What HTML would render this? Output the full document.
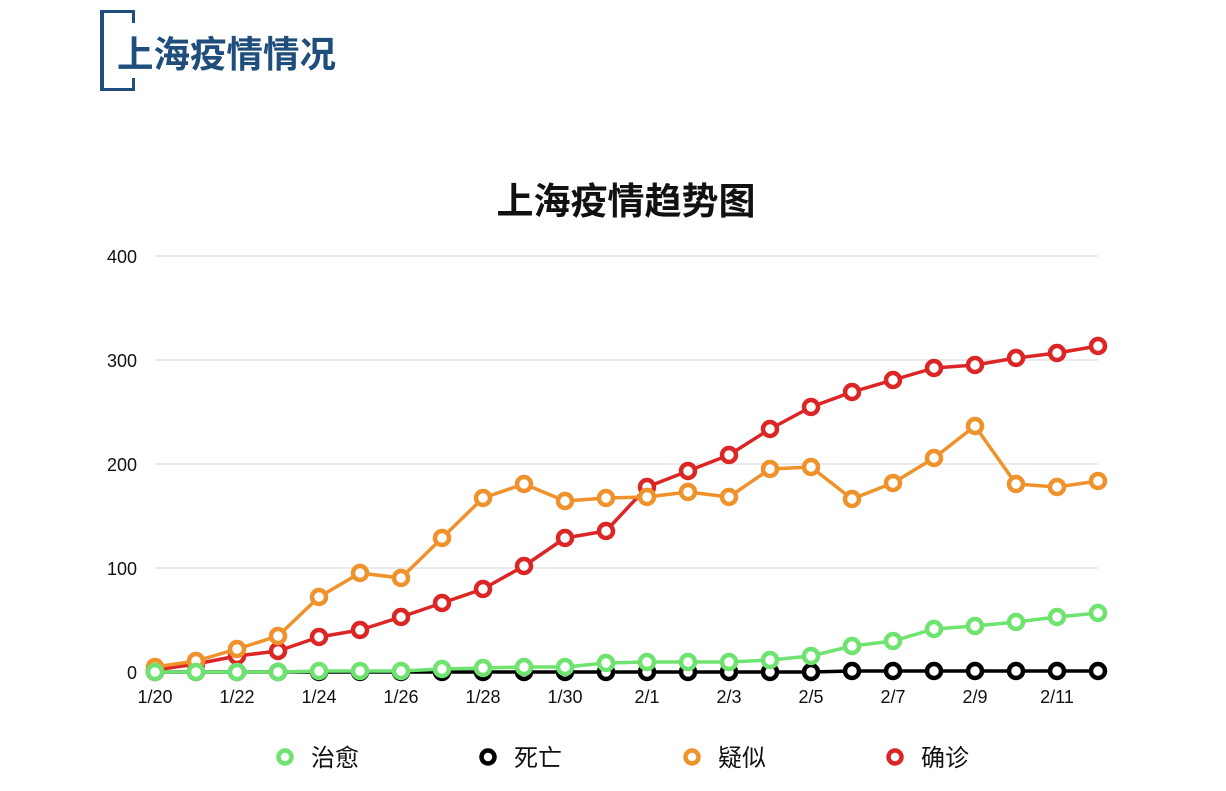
<!DOCTYPE html>
<html><head><meta charset="utf-8"><style>
html,body{margin:0;padding:0;background:#fff;width:1226px;height:791px;overflow:hidden}
svg{display:block}
text{font-family:"Liberation Sans","Noto Sans CJK SC",sans-serif}
.cjk{font-family:"Noto Sans CJK SC","WenQuanYi Zen Hei",sans-serif}
</style></head><body>
<svg width="1226" height="791" viewBox="0 0 1226 791" xmlns="http://www.w3.org/2000/svg">
<defs>
<marker id="mg" markerUnits="userSpaceOnUse" markerWidth="20" markerHeight="20" refX="10" refY="10"><circle cx="10" cy="10" r="7" fill="#fff" stroke="#6fe36f" stroke-width="4.5"/></marker>
<marker id="mk" markerUnits="userSpaceOnUse" markerWidth="20" markerHeight="20" refX="10" refY="10"><circle cx="10" cy="10" r="7" fill="#fff" stroke="#000" stroke-width="4.5"/></marker>
<marker id="mo" markerUnits="userSpaceOnUse" markerWidth="20" markerHeight="20" refX="10" refY="10"><circle cx="10" cy="10" r="7" fill="#fff" stroke="#f0922b" stroke-width="4.5"/></marker>
<marker id="mr" markerUnits="userSpaceOnUse" markerWidth="20" markerHeight="20" refX="10" refY="10"><circle cx="10" cy="10" r="7" fill="#fff" stroke="#dc2626" stroke-width="4.5"/></marker>
</defs>
<g fill="#1f4e7d">
<rect x="100" y="10" width="4" height="81"/>
<rect x="100" y="10" width="35" height="3"/>
<rect x="100" y="88" width="35" height="3"/>
<rect x="132" y="10" width="3" height="13"/>
<rect x="132" y="78" width="3" height="13"/>
</g>
<text x="117" y="67" class="cjk" font-size="36.5" font-weight="bold" fill="#1f4e7d">上海疫情情况</text>
<text x="626" y="214" class="cjk" font-size="37" font-weight="bold" fill="#111" text-anchor="middle">上海疫情趋势图</text>
<g stroke="#d4d4d4" stroke-width="1">
<line x1="155" y1="256" x2="1098" y2="256"/>
<line x1="155" y1="360" x2="1098" y2="360"/>
<line x1="155" y1="464" x2="1098" y2="464"/>
<line x1="155" y1="568" x2="1098" y2="568"/>
</g>
<g font-size="18" fill="#111" text-anchor="end">
<text x="137" y="263">400</text><text x="137" y="367">300</text><text x="137" y="471">200</text><text x="137" y="575">100</text><text x="137" y="679">0</text>
</g>
<g font-size="18" fill="#111" text-anchor="middle">
<text x="155" y="703">1/20</text><text x="237" y="703">1/22</text><text x="319" y="703">1/24</text><text x="401" y="703">1/26</text><text x="483" y="703">1/28</text><text x="565" y="703">1/30</text><text x="647" y="703">2/1</text><text x="729" y="703">2/3</text><text x="811" y="703">2/5</text><text x="893" y="703">2/7</text><text x="975" y="703">2/9</text><text x="1057" y="703">2/11</text>
</g>
<g fill="none" stroke-width="3.5" stroke-linejoin="round">
<polyline stroke="#000" marker-start="url(#mk)" marker-mid="url(#mk)" marker-end="url(#mk)" points="155,672 196,672 237,672 278,672 319,672 360,672 401,672 442,672 483,672 524,672 565,672 606,672 647,672 688,672 729,672 770,672 811,672 852,671 893,671 934,671 975,671 1016,671 1057,671 1098,671"/>
<polyline stroke="#dc2626" marker-start="url(#mr)" marker-mid="url(#mr)" marker-end="url(#mr)" points="155,670 196,664 237,656 278,651 319,637 360,630 401,617 442,603 483,589 524,566 565,538 606,531 647,487 688,471 729,455 770,429 811,407 852,392 893,380 934,368 975,365 1016,358 1057,353 1098,346"/>
<polyline stroke="#f0922b" marker-start="url(#mo)" marker-mid="url(#mo)" marker-end="url(#mo)" points="155,667 196,661 237,649 278,636 319,597 360,573 401,578 442,538 483,498 524,484 565,501 606,498 647,497 688,492 729,497 770,469 811,467 852,499 893,483 934,458 975,426 1016,484 1057,487 1098,481"/>
<polyline stroke="#6fe36f" marker-start="url(#mg)" marker-mid="url(#mg)" marker-end="url(#mg)" points="155,672 196,672 237,672 278,672 319,671 360,671 401,671 442,669 483,668 524,667 565,667 606,663 647,662 688,662 729,662 770,660 811,656 852,646 893,641 934,629 975,626 1016,622 1057,617 1098,613"/>
</g>
<g stroke-width="4.5" fill="#fff">
<circle cx="285" cy="757" r="6.5" stroke="#6fe36f"/>
<circle cx="488" cy="757" r="6.5" stroke="#000"/>
<circle cx="692" cy="757" r="6.5" stroke="#f0922b"/>
<circle cx="895" cy="757" r="6.5" stroke="#dc2626"/>
</g>
<g class="cjk" font-size="24" fill="#111">
<text x="311" y="766">治愈</text><text x="514" y="766">死亡</text><text x="718" y="766">疑似</text><text x="921" y="766">确诊</text>
</g>
</svg>
</body></html>
